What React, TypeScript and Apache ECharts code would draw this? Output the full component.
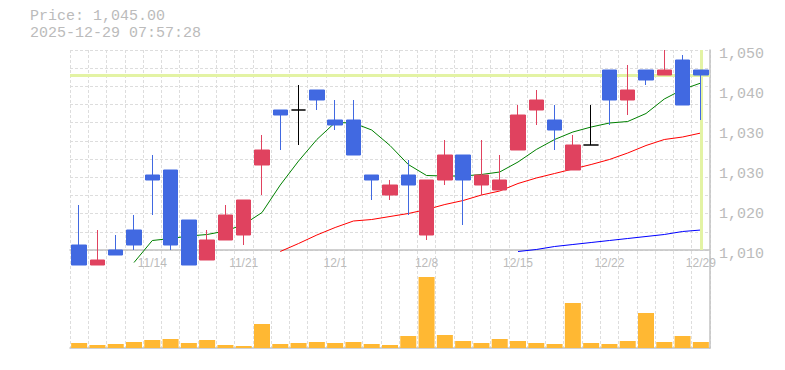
import React, { useEffect, useRef } from "react";
import * as echarts from "echarts";

const dates = [
  "11/10", "11/11", "11/12", "11/13", "11/14",
  "11/17", "11/18", "11/19", "11/20", "11/21",
  "11/25", "11/26", "11/27", "11/28",
  "12/1", "12/2", "12/3", "12/4", "12/5",
  "12/8", "12/9", "12/10", "12/11", "12/12",
  "12/15", "12/16", "12/17", "12/18", "12/19",
  "12/22", "12/23", "12/24", "12/25", "12/26",
  "12/29",
];
const opens = [1011, 1007, 1010, 1014, 1025, 1026, 1016, 1008, 1012, 1013, 1027, 1038, 1038, 1042, 1036, 1036, 1025, 1021, 1025, 1013, 1024, 1029, 1023, 1022, 1030, 1038, 1036, 1026, 1031, 1046, 1040, 1046, 1045, 1048, 1046];
const closes = [1007, 1008, 1009, 1011, 1024, 1011, 1007, 1012, 1017, 1020, 1030, 1037, 1038, 1040, 1035, 1029, 1024, 1023, 1023, 1024, 1029, 1024, 1025, 1024, 1037, 1040, 1034, 1031, 1031, 1040, 1042, 1044, 1046, 1039, 1045];
const lows = [1007, 1007, 1009, 1010, 1017, 1010, 1007, 1008, 1012, 1011, 1021, 1030, 1031, 1038, 1034, 1029, 1020, 1020, 1017, 1012, 1023, 1015, 1021, 1022, 1030, 1035, 1030, 1026, 1031, 1035, 1037, 1043, 1045, 1039, 1036];
const highs = [1019, 1014, 1013, 1017, 1029, 1026, 1016, 1014, 1019, 1020, 1033, 1038, 1043, 1042, 1040, 1040, 1025, 1024, 1028, 1024, 1032, 1029, 1032, 1029, 1039, 1042, 1039, 1033, 1039, 1046, 1047, 1046, 1050, 1049, 1046];
const volumes = [500, 300, 400, 600, 800, 900, 500, 800, 300, 200, 2400, 400, 500, 600, 500, 600, 400, 300, 1200, 7100, 1300, 700, 500, 900, 700, 500, 400, 4500, 500, 400, 700, 3500, 600, 1200, 600];

const maShort = [null, null, null, 1007.5, 1011.9, 1012.3, 1012.8, 1013.1, 1013.8, 1015.1, 1017.5, 1023.0, 1027.8, 1032.1, 1035.5, 1035.4, 1034.0, 1030.9, 1027.1, 1024.9, 1024.8, 1024.8, 1025.1, 1025.6, 1027.6, 1030.1, 1032.1, 1033.6, 1034.6, 1035.4, 1035.7, 1037.3, 1040.2, 1042.1, 1043.4];
const maMid = [null, null, null, null, null, null, null, null, null, null, null, 1009.7, 1011.3, 1013.0, 1014.5, 1015.8, 1016.1, 1016.7, 1017.3, 1018.1, 1019.1, 1019.9, 1021.0, 1021.8, 1023.3, 1024.4, 1025.3, 1026.2, 1027.1, 1028.1, 1029.4, 1030.9, 1032.1, 1032.6, 1033.4];
const maLong = [null, null, null, null, null, null, null, null, null, null, null, null, null, null, null, null, null, null, null, null, null, null, null, null, 1009.7, 1010.1, 1010.7, 1011.1, 1011.5, 1011.9, 1012.3, 1012.7, 1013.1, 1013.7, 1014.0];

const dateTickLabels = ["11/14", "11/21", "12/1", "12/8", "12/15", "12/22", "12/29"];
const priceTicks = [1010, 1018, 1026, 1034, 1042, 1050];
const priceMin = 1010;
const priceMax = 1050;
const volumeMax = 9700;
const currentPrice = 1045;
const timestamp = "2025-12-29 07:57:28";

const UP = "#e0425f";
const DOWN = "#4169e1";
const GRID_LINE = { color: "#dddddd", type: [3, 2] as number[], width: 1 };
const AXIS_LINE = { color: "#c2c2c2", width: 1.5 };
const TEXT = "#bbbbbb";

export default function App() {
  const ref = useRef<HTMLDivElement>(null);

  useEffect(() => {
    if (!ref.current) return;
    const chart = echarts.init(ref.current, undefined, { renderer: "svg" });

    const candleData = dates.map((_, i) => {
      const v = [opens[i], closes[i], lows[i], highs[i]];
      if (opens[i] === closes[i]) {
        return {
          value: v,
          itemStyle: { color: "#000", color0: "#000", borderColor: "#000", borderColor0: "#000" },
        };
      }
      return v;
    });

    const priceText =
      "Price: " + currentPrice.toLocaleString("en-US", { minimumFractionDigits: 2, maximumFractionDigits: 2 });

    chart.setOption({
      animation: false,
      grid: [
        { left: 70, right: 75, top: 50, height: 200 },
        { left: 70, right: 75, top: 251, height: 97 },
      ],
      graphic: [
        {
          type: "text",
          left: 30,
          top: 8.5,
          style: { text: priceText, fill: TEXT, font: '15px "Liberation Mono"', lineHeight: 15 },
        },
        {
          type: "text",
          left: 30,
          top: 25.5,
          style: { text: timestamp, fill: TEXT, font: '15px "Liberation Mono"', lineHeight: 15 },
        },
      ],
      xAxis: [
        {
          type: "category",
          gridIndex: 0,
          data: dates,
          boundaryGap: true,
          axisLine: { lineStyle: AXIS_LINE },
          axisTick: { show: false, interval: 0 },
          axisLabel: {
            interval: (_i: number, v: string) => dateTickLabels.includes(v),
            color: TEXT,
            fontFamily: "Liberation Sans",
            fontSize: 12,
            margin: 7,
          },
          splitLine: { show: true, interval: 0, lineStyle: GRID_LINE },
        },
        {
          type: "category",
          gridIndex: 1,
          data: dates,
          boundaryGap: true,
          offset: 2,
          axisLine: { lineStyle: AXIS_LINE },
          axisTick: { show: false },
          axisLabel: { show: false },
          splitLine: { show: true, interval: 0, lineStyle: GRID_LINE },
        },
      ],
      yAxis: [
        {
          type: "value",
          gridIndex: 0,
          position: "right",
          min: priceMin,
          max: priceMax,
          splitLine: { show: false },
          axisLine: { show: true, lineStyle: AXIS_LINE },
          axisTick: { show: false },
          axisLabel: {
            customValues: priceTicks,
            formatter: (v: number) => (Math.round(v / 10) * 10).toLocaleString("en-US"),
            color: TEXT,
            fontFamily: "Liberation Mono",
            fontSize: 15,
            margin: 9,
            verticalAlign: "top",
            lineHeight: 9,
          },
        },
        {
          type: "value",
          gridIndex: 0,
          position: "left",
          min: 0,
          max: 11,
          interval: 1,
          axisLine: { show: false },
          axisTick: { show: false },
          axisLabel: { show: false },
          splitLine: { show: true, lineStyle: GRID_LINE },
        },
        {
          type: "value",
          gridIndex: 1,
          position: "right",
          min: 0,
          max: volumeMax,
          axisLine: { show: true, lineStyle: AXIS_LINE },
          axisTick: { show: false },
          axisLabel: { show: false },
          splitLine: { show: false },
        },
      ],
      series: [
        {
          type: "line",
          xAxisIndex: 0,
          yAxisIndex: 0,
          data: [],
          z: 1,
          markLine: {
            symbol: ["none", "none"],
            silent: true,
            label: { show: false },
            lineStyle: { color: "#e3f3a4", width: 3, type: "solid" },
            data: [{ yAxis: currentPrice }, { xAxis: dates[dates.length - 1] }],
          },
        },
        {
          type: "line",
          name: "MA short",
          xAxisIndex: 0,
          yAxisIndex: 0,
          data: maShort,
          showSymbol: false,
          clip: false,
          z: 2,
          lineStyle: { color: "#008000", width: 1 },
        },
        {
          type: "line",
          name: "MA mid",
          xAxisIndex: 0,
          yAxisIndex: 0,
          data: maMid,
          showSymbol: false,
          clip: false,
          z: 2,
          lineStyle: { color: "#ff0000", width: 1 },
        },
        {
          type: "line",
          name: "MA long",
          xAxisIndex: 0,
          yAxisIndex: 0,
          data: maLong,
          showSymbol: false,
          clip: false,
          z: 2,
          lineStyle: { color: "#0000ff", width: 1 },
        },
        {
          type: "candlestick",
          xAxisIndex: 0,
          yAxisIndex: 0,
          data: candleData,
          barWidth: 15,
          clip: false,
          z: 5,
          itemStyle: {
            color: UP,
            color0: DOWN,
            borderColor: UP,
            borderColor0: DOWN,
            borderWidth: 1,
          },
        },
        {
          type: "bar",
          xAxisIndex: 1,
          yAxisIndex: 2,
          data: volumes,
          barWidth: 16,
          itemStyle: { color: "#ffb833" },
        },
      ],
    });

    return () => chart.dispose();
  }, []);

  return (
    <div
      ref={ref}
      style={{ position: "absolute", left: 0, top: 0, width: 785, height: 370 }}
    />
  );
}
